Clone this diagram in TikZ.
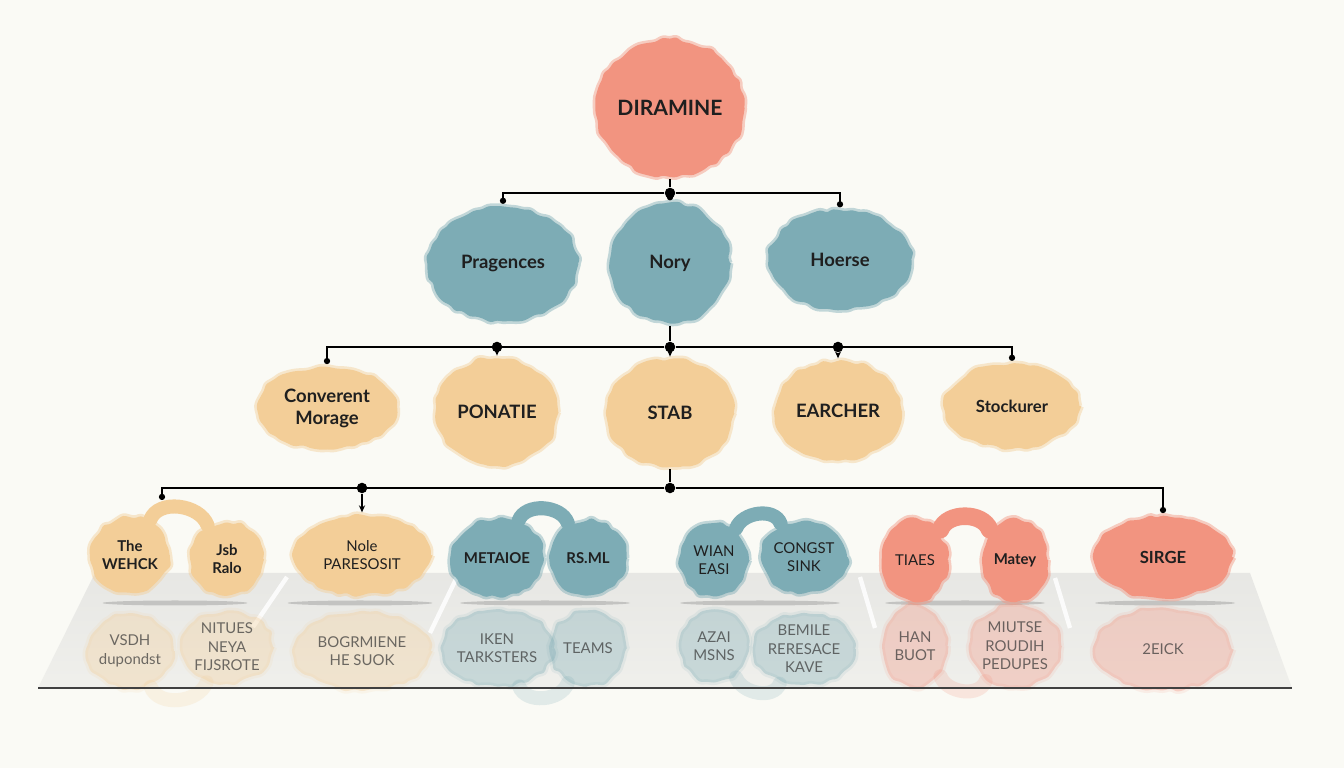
\documentclass[tikz,border=0pt]{standalone}
\usepackage{fontspec}
\setmainfont{Lato}
\usetikzlibrary{shapes.geometric,decorations.pathmorphing,arrows.meta}
\definecolor{paperc}{HTML}{FAFAF5}
\definecolor{rosec}{HTML}{F29480}
\definecolor{tealc}{HTML}{7DACB5}
\definecolor{sandc}{HTML}{F3CE98}
\definecolor{floorc}{HTML}{E7E7E4}

\begin{document}
\pgfmathsetseed{7}
\begin{tikzpicture}[
  blob/.style={ellipse, inner sep=0pt, fill=#1, draw=#1, line width=3pt, draw opacity=0.45,
    line join=round, decorate, decoration={random steps, segment length=4pt, amplitude=1.3pt},
    rounded corners=1.5pt, align=center, text=black!88},
  rootnode/.style={blob=rosec, font=\fontsize{12}{14}\selectfont\bfseries},
  midnode/.style={blob=tealc, font=\fontsize{10.5}{12}\selectfont\bfseries},
  lownode/.style={blob=sandc, font=\fontsize{10.5}{12.5}\selectfont\bfseries},
  leafnode/.style={blob=#1, font=\fontsize{8.5}{10.5}\selectfont\bfseries},
  echonode/.style={blob=#1, fill opacity=0.34, draw opacity=0.12, text opacity=0.7,
    font=\fontsize{8.5}{10.5}\selectfont, text=black!80},
  bridge/.style={line width=8pt, draw=#1, line cap=round},
  wire/.style={line width=1pt, black},
  jdot/.style={circle, fill=black, inner sep=0pt, minimum size=6pt},
  dotend/.style={-{Circle[length=3.5pt]}},
  arrend/.style={-{Stealth[length=4pt,width=3.5pt]}}
]
\fill[paperc] (0,0) rectangle (26.88,15.36);
\useasboundingbox (0,0) rectangle (26.88,15.36);

\shade[top color=floorc, bottom color=floorc!55!paperc] (1.9,3.9) -- (25.0,3.9) -- (25.84,1.6) -- (0.76,1.6) -- cycle;
\draw[white, line width=2.5pt, opacity=0.85] (5.74,3.82) -- (5.06,2.82);
\draw[white, line width=2.5pt, opacity=0.85] (9.14,3.82) -- (8.6,2.7);
\draw[white, line width=2.5pt, opacity=0.85] (17.2,3.82) -- (17.5,2.8);
\draw[white, line width=2.5pt, opacity=0.85] (21.1,3.8) -- (21.4,2.8);
\fill[black, opacity=0.16] (3.5,3.3) ellipse (1.45 and 0.05);
\fill[black, opacity=0.16] (7.2,3.3) ellipse (1.45 and 0.05);
\fill[black, opacity=0.16] (10.9,3.3) ellipse (1.7 and 0.05);
\fill[black, opacity=0.16] (15.2,3.3) ellipse (1.6 and 0.05);
\fill[black, opacity=0.16] (19.3,3.3) ellipse (1.6 and 0.05);
\fill[black, opacity=0.16] (23.3,3.3) ellipse (1.4 and 0.05);

\node[echonode=sandc, minimum width=1.42cm, minimum height=1.5cm] (e1) at (2.6,2.34) {VSDH\\dupondst};
\node[echonode=sandc, minimum width=1.45cm, minimum height=1.45cm] (e2) at (4.54,2.42) {NITUES\\NEYA\\FIJSROTE};
\node[echonode=sandc, minimum width=2.75cm, minimum height=1.6cm] (e3) at (7.24,2.34) {BOGRMIENE\\HE SUOK};
\node[echonode=tealc, minimum width=1.5cm, minimum height=1.55cm] (e4) at (9.94,2.4) {IKEN\\TARKSTERS};
\node[echonode=tealc, minimum width=1.55cm, minimum height=1.5cm] (e5) at (11.76,2.4) {TEAMS};
\node[echonode=tealc, minimum width=1.4cm, minimum height=1.45cm] (e6) at (14.28,2.44) {AZAI\\MSNS};
\node[echonode=tealc, minimum width=1.45cm, minimum height=1.45cm] (e7) at (16.08,2.38) {BEMILE\\RERESACE\\KAVE};
\node[echonode=rosec, minimum width=1.3cm, minimum height=1.65cm] (e8) at (18.3,2.44) {HAN\\BUOT};
\node[echonode=rosec, minimum width=1.3cm, minimum height=1.65cm] (e9) at (20.3,2.44) {MIUTSE\\ROUDIH\\PEDUPES};
\node[echonode=rosec, minimum width=2.75cm, minimum height=1.65cm] (e10) at (23.26,2.38) {2EICK};
\draw[bridge=sandc, opacity=0.2] (e1.-60) to[out=-70,in=-110] (e2.-120);
\draw[bridge=tealc, opacity=0.2] (e4.-60) to[out=-70,in=-110] (e5.-120);
\draw[bridge=tealc, opacity=0.2] (e6.-55) to[out=-70,in=-110] (e7.-125);
\draw[bridge=rosec, opacity=0.2] (e8.-50) to[out=-70,in=-110] (e9.-130);
\draw[black!75, line width=1.4pt] (0.76,1.6) -- (25.84,1.6);

\node[rootnode, minimum width=2.95cm, minimum height=2.75cm] (dir) at (13.4,13.2) {DIRAMINE};

\node[midnode, minimum width=3.0cm, minimum height=2.3cm] (prag) at (10.06,10.08) {Pragences};
\node[midnode, minimum width=2.4cm, minimum height=2.4cm] (nory) at (13.4,10.1) {Nory};
\node[midnode, minimum width=2.85cm, minimum height=2.0cm] (hoer) at (16.8,10.16) {Hoerse};

\node[lownode, minimum width=2.8cm, minimum height=1.65cm] (conv) at (6.54,7.2) {Converent\\Morage};
\node[lownode, minimum width=2.45cm, minimum height=2.15cm] (pona) at (9.94,7.12) {PONATIE};
\node[lownode, minimum width=2.55cm, minimum height=2.15cm] (stab) at (13.4,7.1) {STAB};
\node[lownode, minimum width=2.55cm, minimum height=2.0cm] (earch) at (16.76,7.14) {EARCHER};
\node[lownode, minimum width=2.7cm, minimum height=1.7cm, font=\fontsize{9.5}{11}\selectfont\bfseries] (stock) at (20.24,7.24) {Stockurer};

\node[leafnode=sandc, minimum width=1.42cm, minimum height=1.5cm] (wehck) at (2.6,4.26) {The\\WEHCK};
\node[leafnode=sandc, minimum width=1.45cm, minimum height=1.45cm] (ralo) at (4.54,4.18) {Jsb\\Ralo};
\node[leafnode=sandc, minimum width=2.75cm, minimum height=1.6cm, font=\fontsize{8.5}{10.5}\selectfont] (nole) at (7.24,4.26) {Nole\\PARESOSIT};
\node[leafnode=tealc, minimum width=1.5cm, minimum height=1.55cm] (meta) at (9.94,4.2) {METAIOE};
\node[leafnode=tealc, minimum width=1.55cm, minimum height=1.5cm] (rsml) at (11.76,4.2) {RS.ML};
\node[leafnode=tealc, minimum width=1.4cm, minimum height=1.45cm, font=\fontsize{8.5}{10.5}\selectfont] (wian) at (14.28,4.16) {WIAN\\EASI};
\node[leafnode=tealc, minimum width=1.45cm, minimum height=1.45cm, font=\fontsize{8.5}{10.5}\selectfont] (cong) at (16.08,4.22) {CONGST\\SINK};
\node[leafnode=rosec, minimum width=1.3cm, minimum height=1.65cm, font=\fontsize{8.5}{10.5}\selectfont] (tiaes) at (18.3,4.16) {TIAES};
\node[leafnode=rosec, minimum width=1.3cm, minimum height=1.65cm] (matey) at (20.3,4.16) {Matey};
\node[leafnode=rosec, minimum width=2.75cm, minimum height=1.65cm, font=\fontsize{9.5}{11}\selectfont\bfseries] (sirge) at (23.26,4.22) {SIRGE};
\draw[bridge=sandc] (wehck.60) to[out=70,in=110] (ralo.120);
\draw[bridge=tealc] (meta.60) to[out=70,in=110] (rsml.120);
\draw[bridge=tealc] (wian.55) to[out=70,in=110] (cong.125);
\draw[bridge=rosec, line width=10pt] (tiaes.50) to[out=70,in=110] (matey.130);

\node[jdot] (j1) at (13.4,11.5) {};
\draw[wire] (dir) -- (j1);
\draw[wire, dotend] (j1) -| (prag);
\draw[wire, dotend] (j1) -- (nory);
\draw[wire, dotend] (j1) -| (hoer);

\node[jdot] (j2) at (13.4,8.42) {};
\draw[wire] (nory) -- (j2);
\draw[wire, dotend] (j2) -| (conv);
\draw[wire, dotend] (j2) -| (stock);
\draw[wire, arrend] (j2) -- (stab);
\node[jdot] (k1) at (pona |- j2) {};
\node[jdot] (k2) at (earch |- j2) {};
\draw[wire, arrend] (k1) -- (pona);
\draw[wire, arrend] (k2) -- (earch);

\node[jdot] (j3) at (13.4,5.6) {};
\coordinate (b1) at (3.24,5.36);
\draw[wire] (stab) -- (j3);
\draw[wire, dotend] (j3) -| (b1);
\draw[wire, dotend] (j3) -| (sirge);
\node[jdot] (k3) at (nole |- j3) {};
\draw[wire, arrend] (k3) -- (nole);
\end{tikzpicture}
\end{document}
